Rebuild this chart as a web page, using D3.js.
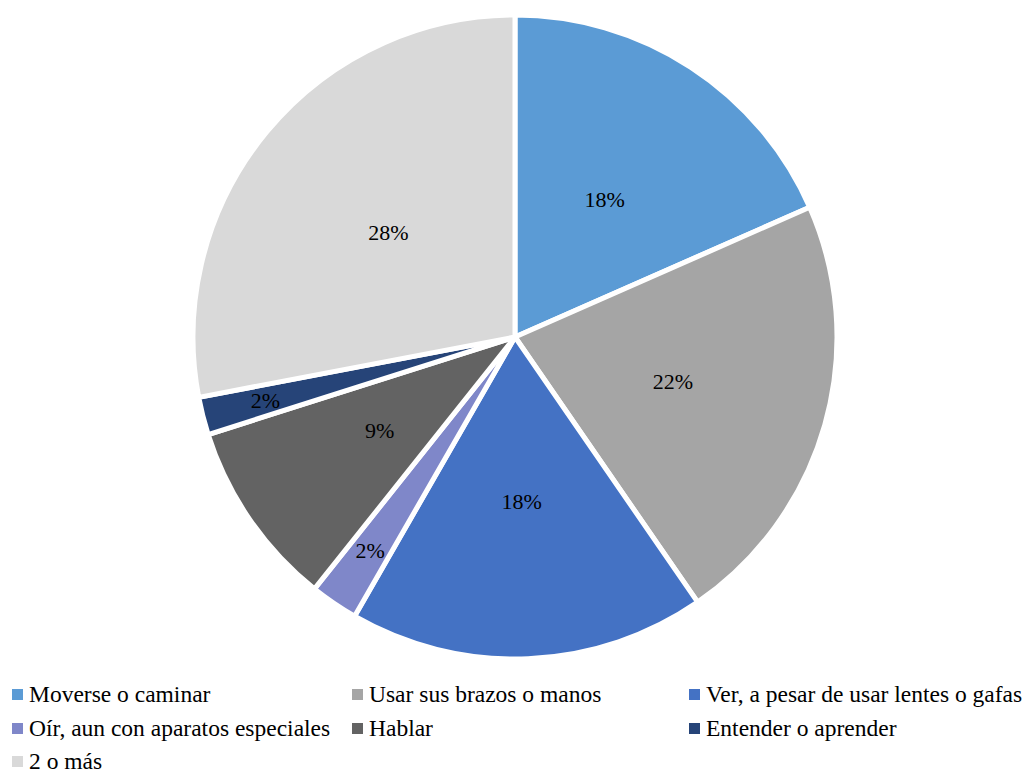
<!DOCTYPE html>
<html>
<head>
<meta charset="utf-8">
<script src="https://cdn.jsdelivr.net/npm/d3@7"></script>
<style>
  html, body { margin: 0; padding: 0; background: #fff; }
  svg { display: block; }
  text { font-family: "Liberation Serif", "Times New Roman", serif; }
</style>
</head>
<body>
<svg id="chart" width="1027" height="773"></svg>
<script>
// Share of people by type of difficulty
const categories = [
  "Moverse o caminar",
  "Usar sus brazos o manos",
  "Ver, a pesar de usar lentes o gafas",
  "Oír, aun con aparatos especiales",
  "Hablar",
  "Entender o aprender",
  "2 o más"
];
const shares = [0.184, 0.220, 0.179, 0.024, 0.094, 0.019, 0.280];
const colors = ["#5B9BD5", "#A5A5A5", "#4472C4", "#7F87C9", "#636363", "#264478", "#D9D9D9"];

const width = 1027, height = 773;
const cx = 515, cy = 337, R = 322;
const svg = d3.select("#chart");

const data = categories.map((c, i) => ({ name: c, value: shares[i], color: colors[i] }));

const pie = d3.pie().value(d => d.value).sort(null);
const arcs = pie(data);
const arc = d3.arc().innerRadius(0).outerRadius(R);

const g = svg.append("g").attr("transform", `translate(${cx},${cy})`);

g.selectAll("path.slice")
  .data(arcs)
  .join("path")
  .attr("class", "slice")
  .attr("d", arc)
  .attr("fill", d => d.data.color)
  .attr("stroke", "#fff")
  .attr("stroke-width", 5)
  .attr("stroke-linejoin", "round");

// labels: narrow slices get their label pushed toward the rim
const fmt = d3.format(".0%");
const labelArc = a => {
  const r = (a.endAngle - a.startAngle) < 0.2 ? R * 0.8 : R * 0.51;
  return d3.arc().innerRadius(r).outerRadius(r).centroid(a);
};
g.selectAll("text.val")
  .data(arcs)
  .join("text")
  .attr("class", "val")
  .attr("x", d => labelArc(d)[0])
  .attr("y", d => labelArc(d)[1])
  .attr("text-anchor", "middle")
  .attr("dominant-baseline", "central")
  .attr("font-size", 22)
  .attr("fill", "#000")
  .text(d => fmt(d.data.value));

// legend in three columns
const colX = [12, 352, 689];
const rowY = [702, 736, 769];
const legend = svg.append("g");
const items = legend.selectAll("g.item")
  .data(data)
  .join("g")
  .attr("class", "item")
  .attr("transform", (d, i) => `translate(${colX[i % 3]},${rowY[Math.floor(i / 3)]})`);
items.append("rect")
  .attr("x", 0).attr("y", -13)
  .attr("width", 11).attr("height", 11)
  .attr("fill", d => d.color);
items.append("text")
  .attr("x", 17).attr("y", 0)
  .attr("font-size", 23.5)
  .attr("fill", "#000")
  .text(d => d.name);
</script>
</body>
</html>
